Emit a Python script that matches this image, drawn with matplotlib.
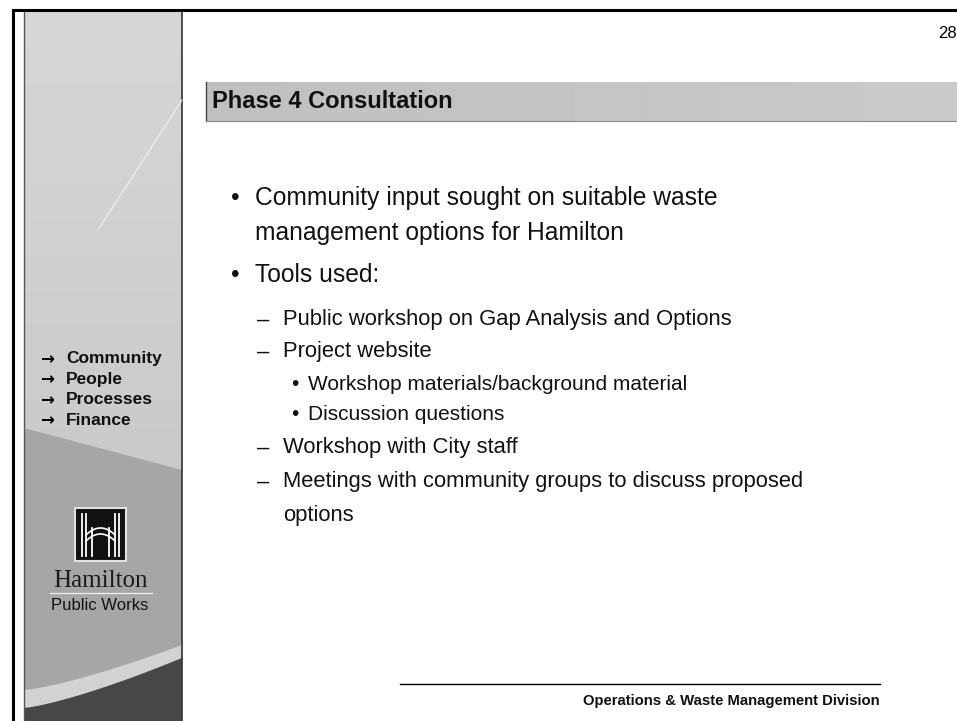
import matplotlib
matplotlib.use('Agg')
import matplotlib.pyplot as plt
import numpy as np
from matplotlib.patches import Rectangle, Polygon

# slide text
title = 'Phase 4 Consultation'
page_no = '28'
footer = 'Operations & Waste Management Division'
side_items = ['Community', 'People', 'Processes', 'Finance']
# (level, text, bullet shown)
body_lines = [
    (1, 'Community input sought on suitable waste', True),
    (1, 'management options for Hamilton', False),
    (1, 'Tools used:', True),
    (2, 'Public workshop on Gap Analysis and Options', True),
    (2, 'Project website', True),
    (3, 'Workshop materials/background material', True),
    (3, 'Discussion questions', True),
    (2, 'Workshop with City staff', True),
    (2, 'Meetings with community groups to discuss proposed', True),
    (2, 'options', False),
]
body_y = [198, 233, 275, 320, 352, 385, 415, 448, 482, 516]

plt.rcParams['font.family'] = ['Liberation Sans', 'DejaVu Sans']

fig = plt.figure(figsize=(9.57, 7.21), dpi=100)
ax = fig.add_axes([0, 0, 1, 1])
ax.set_xlim(0, 957)
ax.set_ylim(721, 0)
ax.axis('off')

# outer frame lines
ax.plot([13, 13], [10, 721], color='black', lw=2.2)
ax.plot([13, 957], [10, 10], color='black', lw=2.2)

# sidebar background
grad = np.linspace(0.84, 0.76, 200).reshape(-1, 1)
ax.imshow(grad, cmap='gray', vmin=0, vmax=1, extent=[24, 182, 721, 12],
          aspect='auto', zorder=1)
ax.add_patch(Polygon([[24, 428], [182, 470], [182, 721], [24, 721]],
                     closed=True, color='#a6a6a6', zorder=2, lw=0))
xs = np.linspace(24, 182, 50)
upper = 690 - 45 * ((xs - 24) / 158) ** 1.3
lower = 708 - 50 * ((xs - 24) / 158) ** 1.3
band = np.concatenate([np.column_stack([xs, upper]), np.column_stack([xs[::-1], lower[::-1]])])
ax.add_patch(Polygon(band, closed=True, color='#d2d2d2', zorder=3, lw=0))
dark = np.concatenate([np.column_stack([xs, lower]), [[182, 721], [24, 721]]])
ax.add_patch(Polygon(dark, closed=True, color='#474747', zorder=3, lw=0))
ax.plot([24, 24], [12, 721], color='#555555', lw=1, zorder=4)
ax.plot([182, 182], [12, 721], color='#333333', lw=1.2, zorder=4)
ax.plot([98, 182], [230, 100], color='#f0f0f0', lw=0.8, zorder=4)

# sidebar menu
for i, item in enumerate(side_items):
    y = 359 + i * 20.5
    ax.text(40, y, '\u2192', fontsize=12, fontweight='bold', va='center',
            ha='left', family=['DejaVu Sans'], zorder=5)
    ax.text(66, y, item, fontsize=12.5, fontweight='bold', va='center',
            ha='left', color='#111111', zorder=5)

# logo
ax.add_patch(Rectangle((75, 508), 51, 53, facecolor='#111111',
                       edgecolor='#e0e0e0', lw=1.5, zorder=5))
for lx in [82, 86, 115, 119]:
    ax.plot([lx, lx], [514, 556], color='white', lw=1.3, zorder=6)
for lx in [92, 109]:
    ax.plot([lx, lx], [528, 556], color='white', lw=1.3, zorder=6)
arc_x = np.linspace(86, 115, 30)
for off in [0, 6]:
    ax.plot(arc_x, 535 + off - 7 * (1 - ((arc_x - 100.5) / 14.5) ** 2),
            color='white', lw=1.2, zorder=6)
ax.text(100.5, 581, 'Hamilton', family=['Liberation Serif'], fontsize=18,
        ha='center', va='center', color='#1a1a1a', zorder=6)
ax.plot([50, 152], [593, 593], color='#f0f0f0', lw=0.9, zorder=6)
ax.text(100, 605, 'Public Works', fontsize=12, ha='center', va='center',
        color='#111111', zorder=6)

# title bar
tb = np.linspace(0.75, 0.79, 200).reshape(1, -1)
ax.imshow(tb, cmap='gray', vmin=0, vmax=1, extent=[206, 957, 121, 82],
          aspect='auto', zorder=1)
ax.plot([206, 206], [82, 121], color='#444444', lw=1)
ax.plot([206, 957], [121, 121], color='#888888', lw=0.8)
ax.text(212, 102, title, fontsize=17, fontweight='bold', va='center',
        ha='left', color='#111111', zorder=5)

# page number
ax.text(957, 33, page_no, fontsize=12, ha='right', va='center')

# body
indent_bullet = {1: 231, 2: 257, 3: 291}
indent_text = {1: 255, 2: 283, 3: 308}
sizes = {1: 17.7, 2: 15.8, 3: 15.0}
for (lvl, txt, has_bullet), y in zip(body_lines, body_y):
    if has_bullet:
        mark = '\u2013' if lvl == 2 else '\u2022'
        ax.text(indent_bullet[lvl], y, mark, fontsize=sizes[lvl],
                va='center', ha='left', color='#111111')
    ax.text(indent_text[lvl], y, txt, fontsize=sizes[lvl], va='center',
            ha='left', color='#111111')

# footer
ax.plot([400, 880], [684, 684], color='black', lw=1)
ax.text(880, 701, footer, fontsize=10.7, fontweight='bold', ha='right',
        va='center', color='#111111')

fig.savefig('out.png', dpi=100)
